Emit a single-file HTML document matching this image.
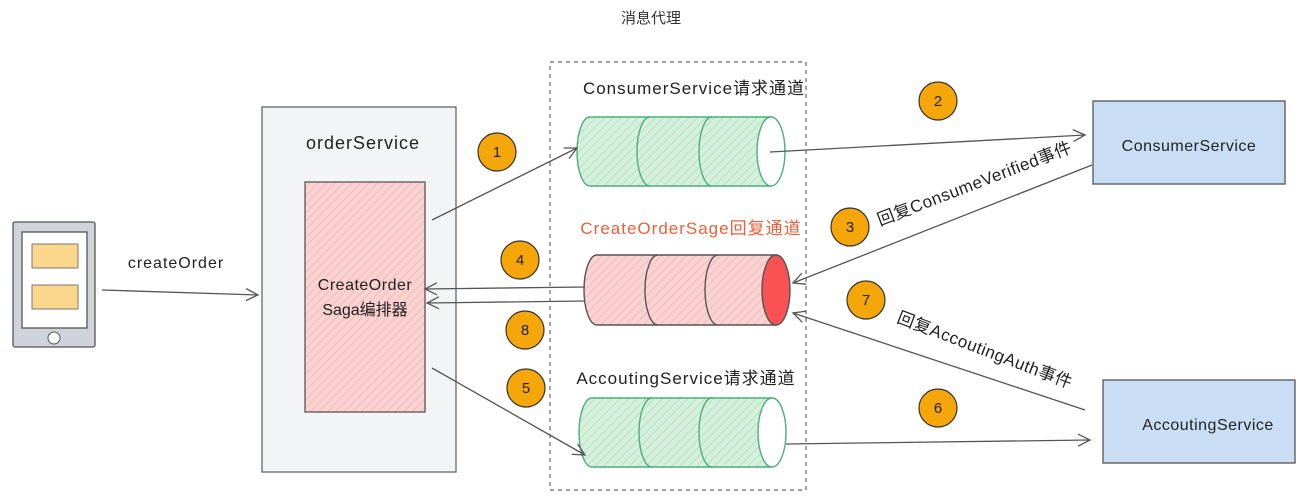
<!DOCTYPE html>
<html><head><meta charset="utf-8"><style>
body{margin:0;background:#fff;width:1302px;height:499px;overflow:hidden;font-family:"Liberation Sans","Noto Sans CJK SC",sans-serif}
</style></head><body>
<svg width="1302" height="499" xmlns="http://www.w3.org/2000/svg" font-family="Liberation Sans, Noto Sans CJK SC, sans-serif">
<defs>
<pattern id="hg" width="6" height="6" patternUnits="userSpaceOnUse" patternTransform="rotate(45)"><rect width="6" height="6" fill="#d6f0dd"/><line x1="0" y1="0" x2="0" y2="6" stroke="#b5e2c2" stroke-width="2"/></pattern>
<pattern id="hp" width="6" height="6" patternUnits="userSpaceOnUse" patternTransform="rotate(45)"><rect width="6" height="6" fill="#fbd3d3"/><line x1="0" y1="0" x2="0" y2="6" stroke="#f4b8b8" stroke-width="2"/></pattern>
<marker id="a" markerWidth="14" markerHeight="14" refX="12" refY="7" orient="auto" markerUnits="userSpaceOnUse"><path d="M0,1 L12,7 L0,13" fill="none" stroke="#555" stroke-width="1.3"/></marker>
</defs>
<text x="651" y="23" font-size="15" text-anchor="middle" fill="#333">消息代理</text>
<rect x="13" y="222" width="82" height="125" fill="#ced4da" stroke="#555" stroke-width="1.3" rx="2"/>
<rect x="22" y="232" width="65" height="96" fill="#fff" stroke="#555" stroke-width="1.3"/>
<rect x="32" y="244" width="46" height="24" fill="#fcd68a" stroke="#777"/>
<rect x="32" y="285" width="46" height="24" fill="#fcd68a" stroke="#777"/>
<circle cx="54" cy="338" r="6" fill="#fff" stroke="#555"/>
<text x="176" y="268" font-size="16" letter-spacing="1" text-anchor="middle" fill="#222">createOrder</text>
<line x1="102" y1="290" x2="258" y2="295" stroke="#555" stroke-width="1.3" marker-end="url(#a)"/>
<rect x="262" y="107" width="194" height="365" fill="#f3f4f5" stroke="#666" stroke-width="1.3"/>
<text x="363" y="149" font-size="18" letter-spacing="1" text-anchor="middle" fill="#222">orderService</text>
<rect x="305" y="182" width="120" height="230" fill="url(#hp)" stroke="#555" stroke-width="1.3"/>
<text x="365" y="290" font-size="16" letter-spacing="0.5" text-anchor="middle" fill="#222">CreateOrder</text>
<text x="365" y="315" font-size="16" text-anchor="middle" fill="#222">Saga编排器</text>
<rect x="550" y="62" width="256" height="428" fill="none" stroke="#666" stroke-width="1.2" stroke-dasharray="4,4"/>
<text x="694" y="94" font-size="17" letter-spacing="1" text-anchor="middle" fill="#222">ConsumerService请求通道</text>
<text x="691" y="234" font-size="17" letter-spacing="1" text-anchor="middle" fill="#e8613a">CreateOrderSage回复通道</text>
<text x="686" y="384" font-size="17" letter-spacing="1" text-anchor="middle" fill="#222">AccoutingService请求通道</text>
<g stroke="#4caf7a" stroke-width="1.4">
<path d="M590,117 L771,117 L771,186 L590,186 A13,34.5 0 0 1 590,117 Z" fill="url(#hg)"/>
<path d="M650,117 A13,34.5 0 0 0 650,186 M712,117 A13,34.5 0 0 0 712,186" fill="none"/>
<ellipse cx="771" cy="151.5" rx="14" ry="34.5" fill="#fff"/>
</g>
<g stroke="#555" stroke-width="1.4">
<path d="M597,255 L776,255 L776,325 L597,325 A13,35 0 0 1 597,255 Z" fill="url(#hp)"/>
<path d="M658,255 A13,35 0 0 0 658,325 M718,255 A13,35 0 0 0 718,325" fill="none"/>
<ellipse cx="776" cy="290" rx="14" ry="35" fill="#fa5252"/>
</g>
<g stroke="#4caf7a" stroke-width="1.4">
<path d="M592,398 L772,398 L772,467 L592,467 A13,34.5 0 0 1 592,398 Z" fill="url(#hg)"/>
<path d="M652,398 A13,34.5 0 0 0 652,467 M712,398 A13,34.5 0 0 0 712,467" fill="none"/>
<ellipse cx="772" cy="432.5" rx="14" ry="34.5" fill="#fff"/>
</g>
<rect x="1093" y="101" width="192" height="83" fill="#c9def5" stroke="#555" stroke-width="1.3"/>
<text x="1189" y="151" font-size="16" letter-spacing="0.5" text-anchor="middle" fill="#222">ConsumerService</text>
<rect x="1103" y="380" width="192" height="83" fill="#c9def5" stroke="#555" stroke-width="1.3"/>
<text x="1208" y="430" font-size="16" letter-spacing="0.5" text-anchor="middle" fill="#222">AccoutingService</text>
<g stroke="#555" stroke-width="1.3" fill="none">
<line x1="432" y1="220" x2="577" y2="148" marker-end="url(#a)"/>
<line x1="770" y1="152" x2="1085" y2="135" marker-end="url(#a)"/>
<line x1="1092" y1="165" x2="793" y2="283" marker-end="url(#a)"/>
<line x1="585" y1="287" x2="425" y2="289" marker-end="url(#a)"/>
<line x1="585" y1="301" x2="427" y2="303" marker-end="url(#a)"/>
<line x1="1085" y1="410" x2="793" y2="313" marker-end="url(#a)"/>
<line x1="432" y1="368" x2="585" y2="455" marker-end="url(#a)"/>
<line x1="786" y1="444" x2="1090" y2="440" marker-end="url(#a)"/>
</g>
<text font-size="17" letter-spacing="0.5" fill="#222" transform="translate(880,226) rotate(-21)">回复ConsumeVerified事件</text>
<text font-size="17" letter-spacing="0.5" fill="#222" transform="translate(896,322) rotate(21)">回复AccoutingAuth事件</text>
<g fill="#f5a70a" stroke="#333" stroke-width="1.2">
<circle cx="497" cy="152" r="19"/><circle cx="938" cy="101" r="19"/><circle cx="850" cy="227" r="19"/>
<circle cx="520" cy="260" r="19"/><circle cx="866" cy="300" r="19"/><circle cx="525" cy="330" r="19"/>
<circle cx="526" cy="388" r="19"/><circle cx="938" cy="408" r="19"/>
</g>
<g font-size="15" text-anchor="middle" fill="#222">
<text x="497" y="157">1</text><text x="938" y="106">2</text><text x="850" y="232">3</text>
<text x="520" y="265">4</text><text x="866" y="305">7</text><text x="525" y="335">8</text>
<text x="526" y="393">5</text><text x="938" y="413">6</text>
</g>
</svg>
</body></html>
